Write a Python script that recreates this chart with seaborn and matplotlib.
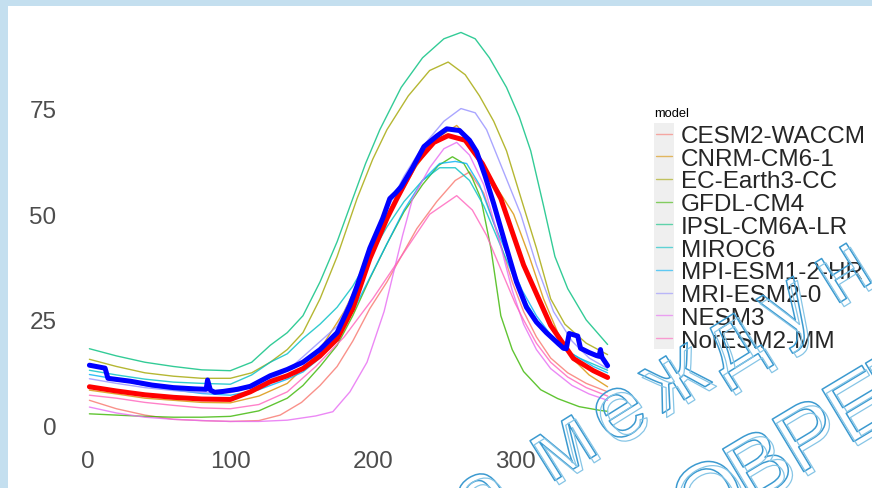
import numpy as np
import pandas as pd
import seaborn as sns
import matplotlib.pyplot as plt
from matplotlib import patheffects
from matplotlib.patches import Rectangle

# ==================== data ====================
MODELS = ["CESM2-WACCM", "CNRM-CM6-1", "EC-Earth3-CC", "GFDL-CM4", "IPSL-CM6A-LR",
          "MIROC6", "MPI-ESM1-2-HR", "MRI-ESM2-0", "NESM3", "NorESM2-MM"]

cesm_day = [1, 20, 40, 60, 80, 100, 120, 135, 150, 163, 175, 186, 198, 210, 220, 231, 245, 258, 268, 278, 288, 298, 306, 315, 325, 337, 350, 365]
cesm_val = [6, 4, 2.5, 1.5, 1.2, 1.0, 1.2, 2.5, 5.5, 9.5, 14, 20, 27.7, 34, 40, 46.6, 53, 58, 60, 55, 45, 34, 27, 21, 16, 12.5, 10, 8]

cnrm_day = [1, 20, 40, 60, 80, 100, 120, 140, 160, 180, 200, 215, 230, 245, 259, 270, 283, 299, 310, 320, 330, 340, 352, 365]
cnrm_val = [8.4, 7.5, 6.5, 6, 5.5, 5.4, 7, 10, 16.5, 27, 41, 52, 61, 68, 71, 67, 58.5, 50, 40, 30, 22, 16, 12, 9.2]

ecearth_day = [1, 20, 40, 60, 80, 100, 115, 128, 140, 151, 163, 175, 189, 200, 210, 225, 240, 253, 265, 275, 285, 294, 304, 315, 325, 335, 350, 365]
ecearth_val = [15.7, 14, 12.5, 11.7, 11.2, 11.2, 12.5, 15, 18, 22, 30, 40, 53.7, 63, 70, 78, 84, 86, 83, 78, 72, 65, 54, 42, 30, 24, 19.5, 16.8]

gfdl_day = [1, 20, 40, 60, 80, 100, 120, 140, 151, 163, 175, 186, 198, 210, 222, 235, 246, 256, 264, 270, 276, 283, 290, 298, 306, 318, 330, 345, 360, 365]
gfdl_val = [2.8, 2.5, 2.2, 2, 2, 2.2, 3.5, 6.5, 9.5, 14, 19, 26, 34.8, 43, 50.6, 57, 61.5, 63.6, 62, 58.5, 53.7, 42, 26, 18, 12.8, 8.5, 6.4, 4.5, 3.6, 3.4]

ipsl_day = [1, 20, 40, 60, 80, 100, 115, 128, 140, 151, 163, 175, 186, 195, 205, 220, 235, 250, 262, 272, 282, 294, 303, 311, 320, 328, 337, 350, 365]
ipsl_val = [18.2, 16.5, 15, 14, 13.2, 13, 15, 19, 22, 26, 34, 43.5, 53.7, 62, 70, 80, 87, 91.5, 93, 91.5, 87, 80, 73, 65, 52, 40, 32.4, 25, 19.2]

miroc_day = [1, 20, 40, 60, 80, 100, 115, 128, 140, 151, 163, 175, 186, 198, 210, 222, 235, 247, 258, 268, 278, 288, 298, 308, 318, 330, 345, 365]
miroc_val = [13.1, 12, 11, 10.3, 10, 9.8, 12, 15, 17, 20.6, 24, 28, 33, 40, 47, 53, 58, 61, 61, 58, 52, 44, 36, 29, 23.5, 19, 16, 13.1]

mpi_day = [1, 20, 40, 60, 80, 100, 120, 140, 151, 163, 175, 186, 198, 210, 222, 235, 247, 258, 266, 275, 285, 295, 305, 315, 325, 340, 355, 365]
mpi_val = [12.1, 11, 9.5, 8.5, 7.6, 7.2, 8.5, 11, 12.7, 16, 21, 27, 35, 43, 51, 58, 62, 62.5, 62, 57, 48, 40, 32, 26, 21.5, 17, 14, 12.5]

mri_day = [1, 20, 40, 60, 80, 100, 120, 140, 160, 175, 186, 198, 210, 222, 235, 250, 262, 272, 280, 292, 304, 315, 327, 340, 352, 365]
mri_val = [11.1, 10, 9, 8.3, 7.8, 7.8, 9.5, 13, 19, 23.5, 31, 41, 51, 59, 66, 72, 75, 74, 70, 60, 50, 38, 27, 20, 16, 13.5]

nesm_day = [1, 20, 40, 60, 80, 100, 120, 140, 160, 172, 184, 196, 208, 221, 228, 240, 250, 259, 268, 278, 288, 298, 306, 315, 325, 340, 352, 365]
nesm_val = [4.4, 3, 2, 1.5, 1.2, 1, 1, 1.3, 2.3, 3.3, 8, 15, 27, 45, 53.7, 61, 65.5, 67, 64, 57, 45, 32, 24, 18, 13.5, 9.5, 7.5, 6]

noresm_day = [1, 20, 40, 60, 80, 100, 120, 140, 160, 180, 200, 220, 240, 259, 270, 280, 290, 300, 306, 315, 325, 337, 350, 365]
noresm_val = [7.2, 6.5, 5.5, 4.8, 4.2, 4, 5, 8, 14, 21, 30, 40, 50, 54.4, 51, 45, 37, 29, 25, 19.5, 15, 11.5, 9, 7]

# multi-model mean (thick red) and observations (thick blue)
ens_day = [1, 20, 40, 60, 80, 100, 114, 128, 140, 151, 163, 175, 186, 198, 210, 217, 230, 243, 253, 265, 277, 290, 306, 325, 341, 355, 365]
ens_val = [9.2, 8.2, 7.3, 6.7, 6.3, 6.2, 8, 10.4, 11.8, 13.5, 16.5, 20.5, 27.7, 39.5, 49, 53.7, 62, 67, 68.6, 67.5, 62, 53.7, 38, 23.7, 15.9, 13, 11.4]

obs_day = [1, 12, 14, 30, 45, 60, 75, 83, 84, 86, 89, 95, 105, 114, 128, 140, 151, 163, 175, 184, 189, 198, 207, 212, 216, 220, 228, 236, 245, 252, 261, 268, 273, 279, 285, 294, 301, 308, 315, 322, 334, 336, 338, 344, 346, 352, 357, 359, 360, 361, 365]
obs_val = [14.3, 13.6, 11.2, 10.5, 9.6, 9.0, 8.7, 8.6, 10.8, 8.4, 7.9, 8.1, 8.6, 9.3, 11.8, 13.3, 15, 18, 22, 28.5, 33, 42, 49, 53.7, 55, 56.5, 61, 66, 68.5, 70.2, 69.8, 67.5, 64.8, 59, 52.5, 42, 34, 28, 24.5, 22, 18.3, 18.2, 21.8, 21.2, 18.3, 17.3, 16.6, 16.4, 18, 16.2, 14.2]

X_TICKS = [0, 100, 200, 300]
Y_TICKS = [0, 25, 50, 75]

# ggplot default hue colours for 10 levels
PALETTE = ["#F8766D", "#D89000", "#A3A500", "#39B600", "#00BF7D",
           "#00BFC4", "#00B0F6", "#9590FF", "#E76BF3", "#FF62BC"]

# ==================== long table for seaborn ====================
model_days = [cesm_day, cnrm_day, ecearth_day, gfdl_day, ipsl_day,
              miroc_day, mpi_day, mri_day, nesm_day, noresm_day]
model_vals = [cesm_val, cnrm_val, ecearth_val, gfdl_val, ipsl_val,
              miroc_val, mpi_val, mri_val, nesm_val, noresm_val]
frames = []
for name, d, v in zip(MODELS, model_days, model_vals):
    frames.append(pd.DataFrame({"day": d, "value": v, "model": name}))
df = pd.concat(frames, ignore_index=True)

# ==================== figure ====================
sns.set_theme(style="white")
plt.rcParams["font.family"] = ["Liberation Sans", "DejaVu Sans"]

W, H = 872, 489
fig = plt.figure(figsize=(W / 100, H / 100), dpi=100)
fig.patch.set_facecolor("#C4DFEF")
# white slide area
fig.patches.append(Rectangle((8 / W, 0), 1, 1 - 7 / H, transform=fig.transFigure,
                             facecolor="white", edgecolor="none", zorder=-3))

ax = fig.add_axes([63.5 / W, 1 - 444 / H, 570 / W, 430 / H])
ax.set_facecolor("none")

sns.lineplot(data=df, x="day", y="value", hue="model", hue_order=MODELS,
             palette=PALETTE, linewidth=1.0, alpha=0.8, estimator=None, ax=ax)
sns.lineplot(x=ens_day, y=ens_val, color="red", linewidth=3.6, ax=ax,
             estimator=None, legend=False)
sns.lineplot(x=obs_day, y=obs_val, color="blue", linewidth=3.6, ax=ax,
             estimator=None, legend=False)

ax.set_xlim(-17.2, 383.2)
ax.set_ylim(-4.1, 97.6)
ax.set_xticks(X_TICKS)
ax.set_yticks(Y_TICKS)
ax.set_xlabel("")
ax.set_ylabel("")
for s in ax.spines.values():
    s.set_visible(False)
ax.tick_params(length=3, width=0.8, color="#333333", labelsize=17.5,
               labelcolor="#4D4D4D", pad=2)

# legend in the ggplot way: grey key column, big labels
old = ax.get_legend()
handles = old.legend_handles
labels = [t.get_text() for t in old.get_texts()]
old.remove()
for h in handles:
    h.set_linewidth(1.0)
    h.set_alpha(0.6)
ax.legend(handles, labels, loc="upper left", bbox_to_anchor=(656 / W, 1 - 126 / H),
          bbox_transform=fig.transFigure, frameon=False, fontsize=17.5,
          handlelength=0.65, handletextpad=0.37, labelspacing=0.03,
          borderpad=0, borderaxespad=0)
fig.patches.append(Rectangle((654 / W, 1 - 350 / H), 20 / W, 226 / H,
                             transform=fig.transFigure, facecolor="#EFEFEF",
                             edgecolor="none", zorder=-2))
fig.text(654 / W, 1 - 114 / H, "model", fontsize=9.3, va="center", ha="left", color="black")

# ==================== watermark of the slide (outlined, widely spaced letters) ====================
wm_fx = [patheffects.Stroke(linewidth=1.1, foreground="#3C9AD0"),
         patheffects.Stroke(linewidth=0.9, foreground="#86C5E6", offset=(3, -3))]


def spaced_text(text, x0, y0, angle, step, space_step, size):
    ca, sa = np.cos(np.radians(angle)), np.sin(np.radians(angle))
    dist = 0.0
    prev = None
    for ch in text:
        w = space_step if ch == " " else step
        if prev is not None:
            dist += (prev + w) / 2
        prev = w
        if ch == " ":
            continue
        fig.text((x0 + dist * ca) / W, 1 - (y0 - dist * sa) / H, ch, rotation=angle,
                 rotation_mode="anchor", ha="center", va="center", fontsize=size,
                 color="none", path_effects=wm_fx, zorder=10)


spaced_text("о международной", 482, 500, 32, 66, 30, 64)
spaced_text("СОВРЕМЕННЫЕ", 662, 531, 31, 58, 30, 64)

plt.savefig("out.png", dpi=100)
